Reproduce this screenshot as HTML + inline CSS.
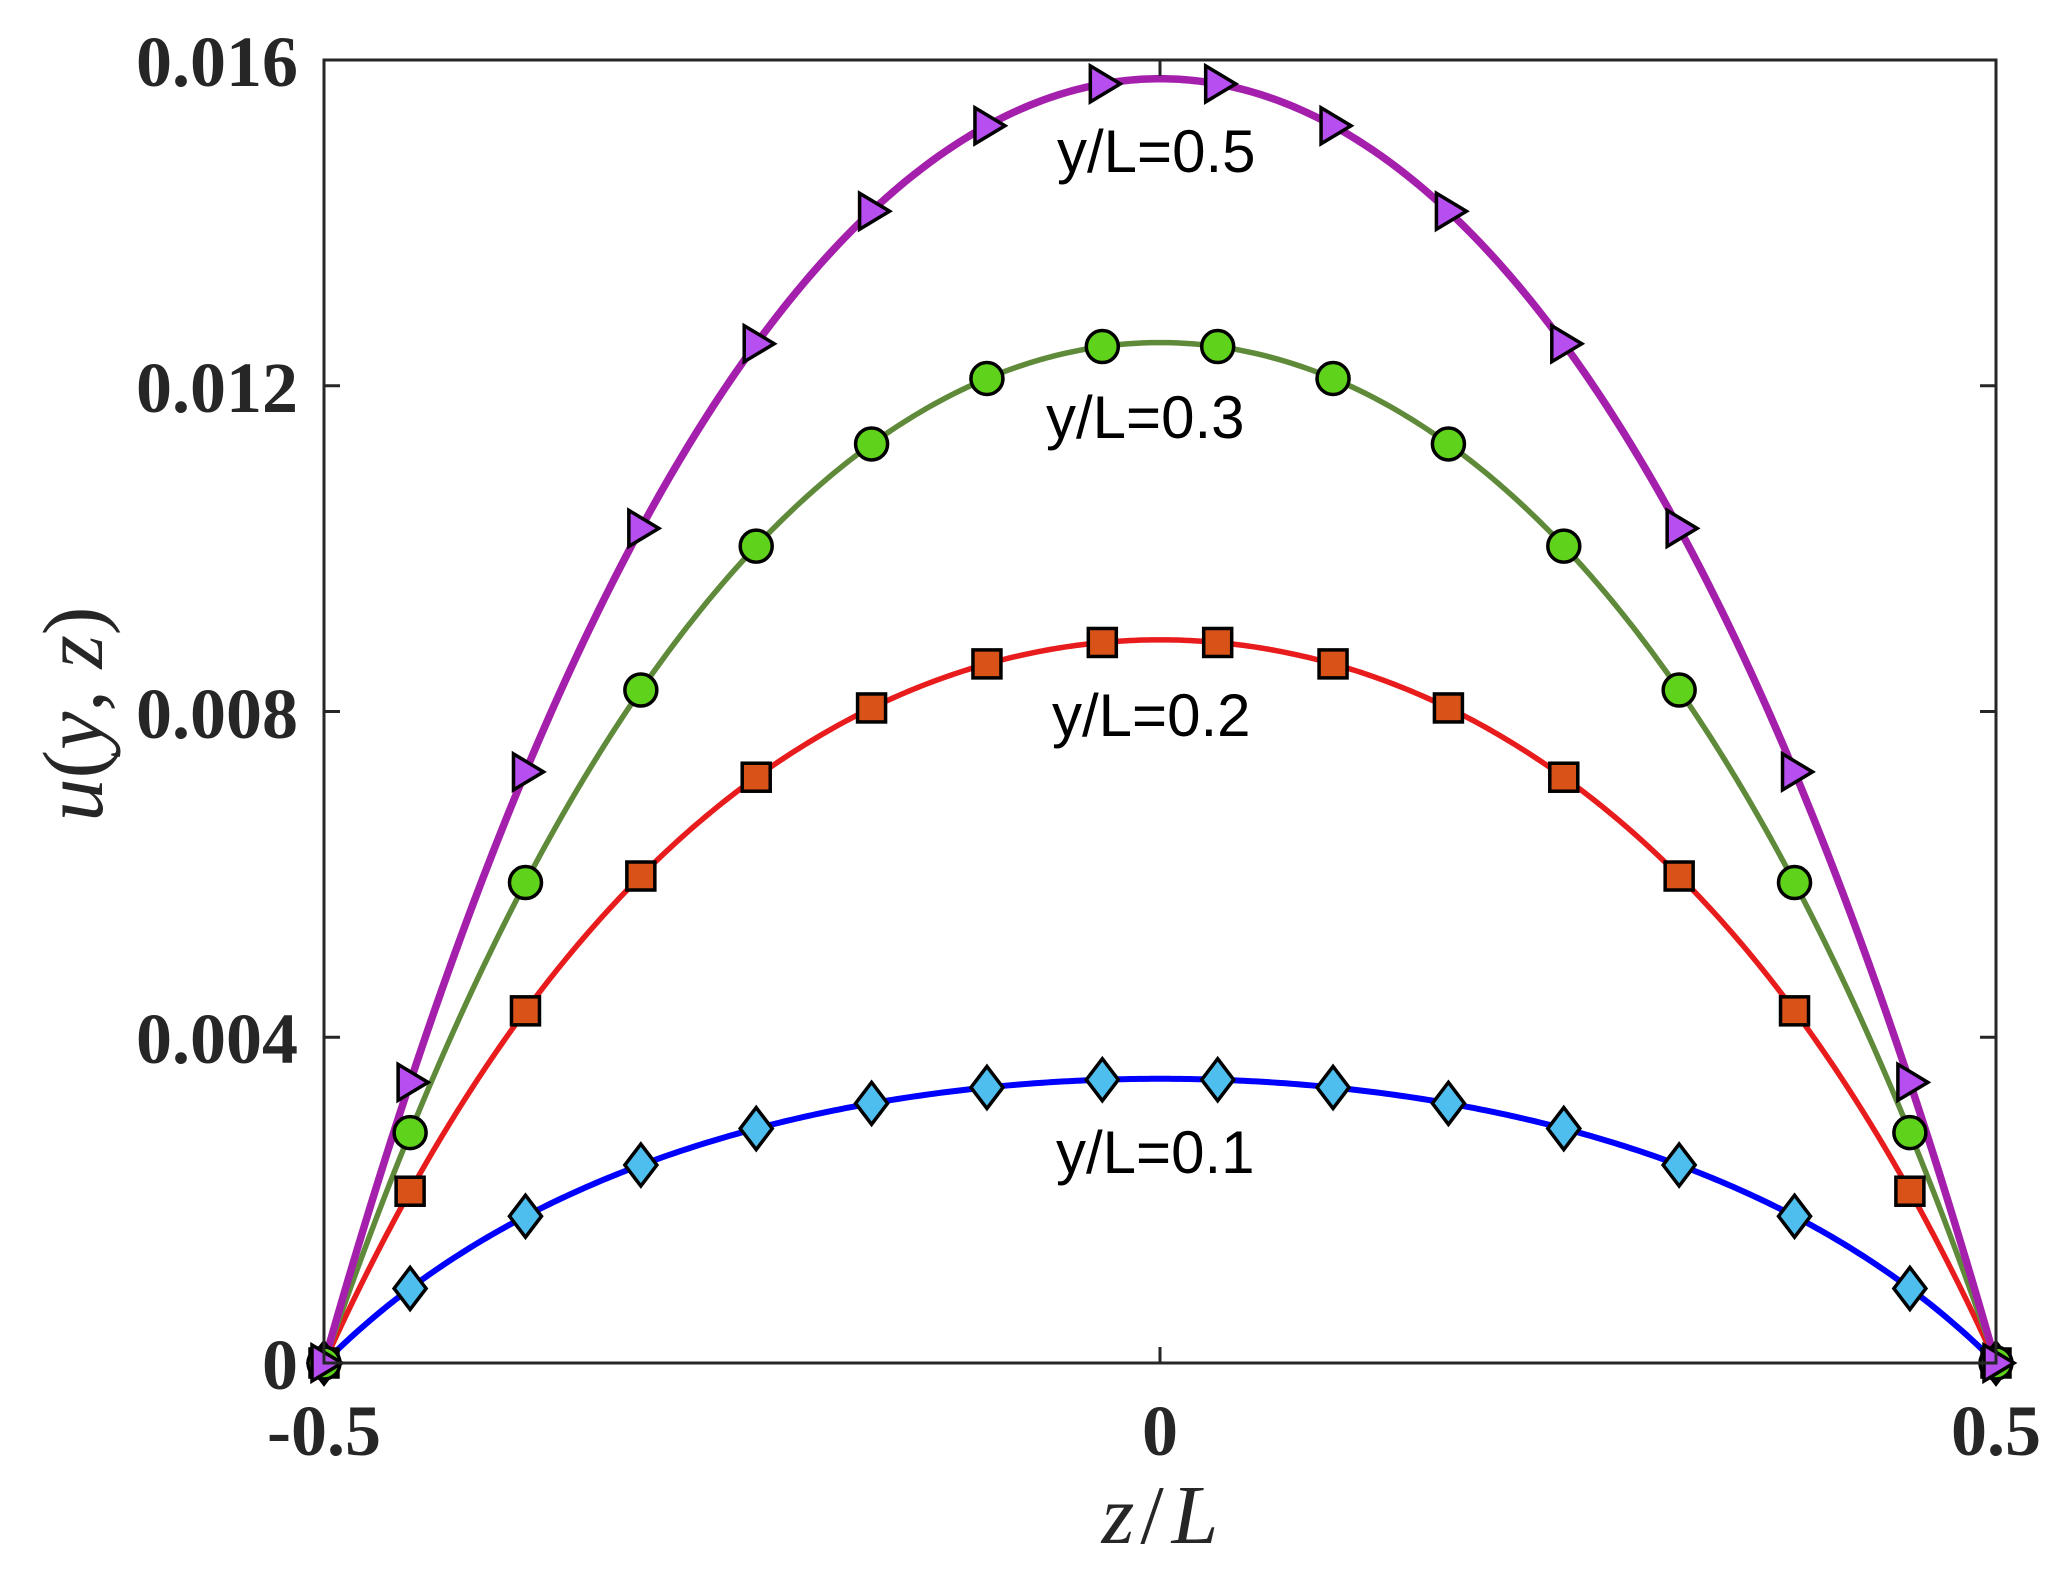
<!DOCTYPE html>
<html><head><meta charset="utf-8"><style>
html,body{margin:0;padding:0;background:#fff;}
svg{display:block;}
</style></head><body>
<svg id="s" width="2055" height="1582" viewBox="0 0 2055 1582" xmlns="http://www.w3.org/2000/svg">
<rect width="2055" height="1582" fill="#fff"/>
<g id="curves"></g>
<g id="marks"></g>
<rect x="324" y="60" width="1672" height="1303" fill="none" stroke="#262626" stroke-width="3"/>
<g id="ticks" stroke="#262626" stroke-width="3"></g>
<g font-family="'Liberation Serif',serif" font-weight="bold" font-size="72" fill="#262626">
<text x="298" y="86" text-anchor="end">0.016</text>
<text x="298" y="412" text-anchor="end">0.012</text>
<text x="298" y="738" text-anchor="end">0.008</text>
<text x="298" y="1063" text-anchor="end">0.004</text>
<text x="298" y="1389" text-anchor="end">0</text>
<text x="324" y="1455" text-anchor="middle">-0.5</text>
<text x="1160" y="1455" text-anchor="middle">0</text>
<text x="1996" y="1455" text-anchor="middle">0.5</text>
</g>
<g font-family="'Liberation Sans',sans-serif" font-size="60" fill="#000">
<text x="1057" y="172">y/L=0.5</text>
<text x="1046" y="438">y/L=0.3</text>
<text x="1052" y="736">y/L=0.2</text>
<text x="1056" y="1173">y/L=0.1</text>
</g>
<text x="1160" y="1543" text-anchor="middle" font-family="'Liberation Serif',serif" font-size="84" fill="#262626"><tspan font-style="italic">z</tspan><tspan dx="6">/</tspan><tspan dx="8" font-style="italic">L</tspan></text>
<text transform="translate(102,714) rotate(-90)" text-anchor="middle" font-family="'Liberation Serif',serif" font-size="86" fill="#262626"><tspan font-style="italic">u</tspan>(<tspan font-style="italic">y</tspan>, <tspan font-style="italic">z</tspan>)</text>
</svg>
<script>
var X0=324,X1=1996,Y0=60,Y1=1363;
function px(z){return X0+(z+0.5)*(X1-X0);}
function py(v){return Y1-v/0.016*(Y1-Y0);}
var series=[
 {A:0.00349,y:0.1,line:'#0000ff',lw:6,fill:'#4dbeee',m:'d'},
 {A:0.00888,y:0.2,line:'#e81c1c',lw:5.5,fill:'#d95319',m:'s'},
 {A:0.01253,y:0.3,line:'#5e8a3a',lw:5.5,fill:'#5fd31b',m:'o'},
 {A:0.01577,y:0.5,line:'#a51fad',lw:7.5,fill:'#b74ef0',m:'t'}
];
function g(y,z){var s=0;for(var n=1;n<80;n+=2){var sg=((n-1)/2)%2?-1:1;
 s+=sg/(n*n*n)*Math.cos(n*Math.PI*z)*(1-Math.cosh(n*Math.PI*(y-0.5))/Math.cosh(n*Math.PI/2));}return s;}
var NS='http://www.w3.org/2000/svg';
var cg=document.getElementById('curves'),mg=document.getElementById('marks'),tg=document.getElementById('ticks');
function el(t,a,p){var e=document.createElementNS(NS,t);for(var k in a)e.setAttribute(k,a[k]);p.appendChild(e);return e;}
series.forEach(function(s){s.n=g(s.y,0);});
function f(s,z){return Math.max(0,s.A*g(s.y,z)/s.n);}
series.forEach(function(s){
 var d='';for(var i=0;i<=400;i++){var z=-0.5+i/400;d+=(i?'L':'M')+px(z).toFixed(2)+' '+py(f(s,z)).toFixed(2);}
 el('path',{d:d,fill:'none',stroke:s.line,'stroke-width':s.lw,'stroke-linejoin':'round'},cg);
});
var zs=[-0.5];
for(var k=6;k>=0;k--)zs.push(-(2*k+1)*0.0345);
for(var k=0;k<=6;k++)zs.push((2*k+1)*0.0345);
zs.push(0.5);
series.forEach(function(s){
 zs.forEach(function(z){
  var x=px(z),y=py(Math.abs(z)>=0.5?0:f(s,z));var a={fill:s.fill,stroke:'#000','stroke-width':3.5};
  if(s.m=='d'){a.points=(x)+','+(y-21)+' '+(x+16)+','+y+' '+x+','+(y+21)+' '+(x-16)+','+y;el('polygon',a,mg);}
  else if(s.m=='s'){a.x=x-14;a.y=y-14;a.width=28;a.height=28;el('rect',a,mg);}
  else if(s.m=='o'){a.cx=x;a.cy=y;a.r=16;el('circle',a,mg);}
  else {a.points=(x-12)+','+(y-18)+' '+(x+18)+','+y+' '+(x-12)+','+(y+18);el('polygon',a,mg);}
 });
});
var L=16;
[0,0.004,0.008,0.012,0.016].forEach(function(v){var y=py(v);
 el('line',{x1:X0,y1:y,x2:X0+L,y2:y},tg);el('line',{x1:X1,y1:y,x2:X1-L,y2:y},tg);});
[-0.5,0,0.5].forEach(function(z){var x=px(z);
 el('line',{x1:x,y1:Y1,x2:x,y2:Y1-L},tg);el('line',{x1:x,y1:Y0,x2:x,y2:Y0+L},tg);});
</script>
</body></html>
